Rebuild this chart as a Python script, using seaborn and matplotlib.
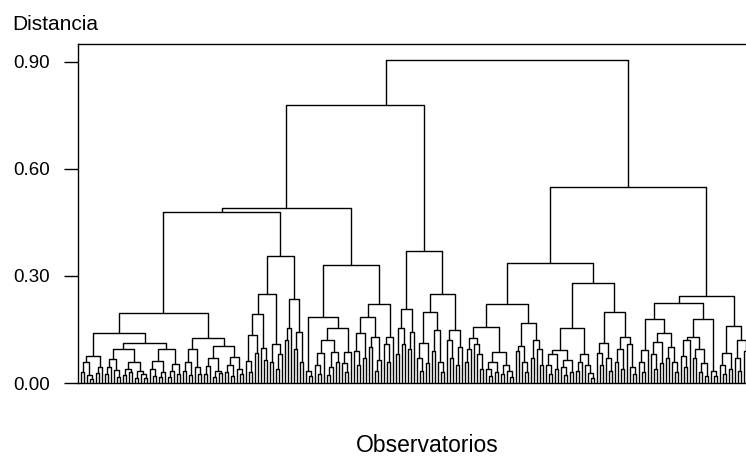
import numpy as np
import pandas as pd
import matplotlib
matplotlib.use("Agg")
import matplotlib.pyplot as plt
import seaborn as sns

# leaf marker
o = None

# ---- sub-clusters (height, left, right); leaves are `o` ----
obs_g1 = (0.195,
  (0.141,
    (0.076,
      (0.058, (0.030, o, o), (0.022, o, (0.012, o, o))),
      (0.046, (0.028, o, o), o)),
    (0.112,
      (0.095,
        (0.068, (0.045, (0.025, o, o), o), (0.036, o, (0.018, o, o))),
        (0.058, (0.040, (0.022, o, o), (0.030, o, o)),
                (0.034, (0.015, o, o), (0.026, o, (0.014, o, o))))),
      (0.095,
        (0.062, (0.040, o, (0.020, o, o)), (0.030, (0.016, o, o), o)),
        (0.052, (0.034, (0.018, o, o), o), (0.026, o, o))))),
  (0.126,
    (0.095, (0.060, (0.034, o, o), (0.022, o, o)), (0.045, o, (0.025, o, o))),
    (0.104,
      (0.070, (0.048, (0.026, o, o), o), (0.035, (0.018, o, o), (0.028, o, o))),
      (0.072, (0.050, (0.030, o, o), (0.020, o, o)), (0.040, o, (0.024, o, o))))))

obs_g2 = (0.355,
  (0.250,
    (0.193,
      (0.134, (0.062, o, (0.030, o, o)), (0.085, o, o)),
      (0.098, o, (0.065, o, o))),
    (0.110, (0.058, o, o), (0.082, (0.040, o, o), o))),
  (0.235,
    (0.154, (0.120, o, o), o),
    (0.143, (0.095, o, o), (0.060, o, o))))

obs_g3 = (0.330,
  (0.185,
    (0.035, o, (0.020, o, o)),
    (0.154,
      (0.120,
        (0.083, (0.050, o, (0.025, o, o)), o),
        (0.087, (0.045, (0.022, o, o), o), (0.060, o, o))),
      (0.087, (0.055, o, (0.030, o, o)), o))),
  (0.220,
    (0.185,
      (0.140, (0.090, o, (0.050, o, o)), (0.070, o, o)),
      (0.130, (0.100, o, o), (0.065, (0.035, o, o), o))),
    (0.129, (0.110, o, (0.060, o, o)), o)))

obs_g4 = (0.370,
  (0.207,
    (0.154, (0.080, o, o), (0.110, o, o)),
    (0.143, (0.095, o, o), o)),
  (0.250,
    (0.200,
      (0.112, (0.070, o, (0.035, o, o)), (0.055, o, o)),
      (0.148, (0.090, o, o), (0.060, o, (0.030, o, o)))),
    (0.148,
      (0.120, o, (0.070, o, o)),
      (0.100, (0.050, o, o), o))))

obs_g5 = (0.220,
  (0.157,
    (0.126,
      (0.095, (0.060, o, o), o),
      (0.110, o, (0.080, o, (0.040, o, o)))),
    (0.087,
      (0.060, (0.040, o, (0.020, o, o)), (0.030, o, o)),
      (0.050, (0.025, o, o), (0.035, o, (0.018, o, o))))),
  (0.168,
    (0.105, (0.090, o, o), (0.060, o, (0.030, o, o))),
    (0.120, (0.070, o, o), (0.095, o, (0.050, o, o)))))

obs_g6 = (0.280,
  (0.155,
    (0.093,
      (0.080, (0.050, o, (0.025, o, o)), (0.040, o, o)),
      (0.065, (0.045, o, (0.022, o, o)), (0.030, o, o))),
    (0.080,
      (0.060, (0.035, o, o), o),
      (0.050, o, (0.028, o, (0.015, o, o))))),
  (0.200,
    (0.112, (0.085, o, (0.050, o, o)), (0.070, o, (0.035, o, o))),
    (0.129, (0.095, (0.060, o, o), (0.040, o, o)),
            (0.110, o, (0.045, o, (0.025, o, o))))))

obs_g7 = (0.225,
  (0.180,
    (0.093, (0.060, o, (0.030, o, o)), o),
    (0.140,
      (0.115, (0.080, o, (0.040, o, o)), (0.055, o, o)),
      (0.100, (0.070, o, o), (0.060, o, (0.030, o, o))))),
  (0.180,
    (0.130,
      (0.120, (0.075, o, (0.045, o, o)), o),
      (0.095, (0.070, o, o), (0.055, (0.030, o, o), (0.020, o, o)))),
    (0.035, o, (0.020, o, o))))

obs_g8 = (0.160,
  (0.084, (0.050, o, (0.025, o, o)), (0.040, o, o)),
  (0.120, (0.070, o, (0.035, o, o)), (0.090, o, o)))

# ---- upper merges ----
top_heights = {"A": 0.480, "B": 0.490, "C": 0.780, "R1": 0.335,
               "R2": 0.245, "R": 0.550, "root": 0.905}

y_ticks = [0.00, 0.30, 0.60, 0.90]
y_tick_labels = ["0.00", "0.30", "0.60", "0.90"]
y_title = "Distancia"
x_title = "Observatorios"

# named nodes: (height, left, right, name)
tree = (top_heights["root"],
        (top_heights["C"],
         (top_heights["B"], (top_heights["A"], obs_g1, obs_g2, "A"), obs_g3, "B"),
         obs_g4, "C"),
        (top_heights["R"],
         (top_heights["R1"], obs_g5, obs_g6, "R1"),
         (top_heights["R2"], obs_g7, obs_g8, "R2"), "R"),
        "root")

# layout: where the parent link meets a node's bar (fraction of the bar);
# the original drawing joins the root right of centre on node C
link_fraction = {"C": 0.725}

# ---- layout of the dendrogram ----
rows = []
counter = [0]
seg_id = [0]


def layout(node):
    if node is None:
        x = float(counter[0])
        counter[0] += 1
        return x, 0.0
    h, left, right = node[:3]
    name = node[3] if len(node) > 3 else None
    xl, hl = layout(left)
    xr, hr = layout(right)
    sid = seg_id[0]
    seg_id[0] += 1
    for k, (px, py) in enumerate([(xl, hl), (xl, h), (xr, h), (xr, hr)]):
        rows.append({"seg": sid, "order": k, "x": px, "y": py})
    f = link_fraction.get(name, 0.5)
    return xl + f * (xr - xl), h


layout(tree)
df = pd.DataFrame(rows)

sns.set_style("ticks")
plt.rcParams["font.family"] = ["Liberation Sans", "DejaVu Sans"]
plt.rcParams["text.color"] = "black"

W, H = 746, 457
fig = plt.figure(figsize=(W / 100, H / 100), dpi=100)
ax_left, ax_right, ax_top, ax_bottom = 77.5, 746, 44, 383
ax = fig.add_axes([ax_left / W, 1 - ax_bottom / H,
                   (ax_right - ax_left) / W, (ax_bottom - ax_top) / H])

sns.lineplot(data=df, x="x", y="y", units="seg", estimator=None, sort=False,
             color="black", linewidth=1.0, ax=ax, legend=False)

spacing_px = 3.0
first_leaf_px = 81.0
xl0 = -(first_leaf_px - ax_left) / spacing_px
ax.set_xlim(xl0, xl0 + (ax_right - ax_left) / spacing_px)
ax.set_ylim(0, 0.95)

ax.set_yticks(y_ticks)
ax.set_yticklabels(y_tick_labels, fontsize=13.5, color="black")
ax.set_xticks([])
ax.set_xlabel("")
ax.set_ylabel("")
ax.tick_params(axis="y", direction="out", length=10, width=1, pad=10,
               colors="black")
for side in ["left", "top", "bottom"]:
    ax.spines[side].set_visible(True)
    ax.spines[side].set_color("black")
    ax.spines[side].set_linewidth(1.0)
ax.spines["right"].set_visible(False)

fig.text(12 / W, 1 - 30 / H, y_title, fontsize=15, ha="left", va="baseline",
         color="black")
fig.text(427 / W, 1 - 452 / H, x_title, fontsize=16.5, ha="center",
         va="baseline", color="black")

fig.savefig("out.png", dpi=100)
